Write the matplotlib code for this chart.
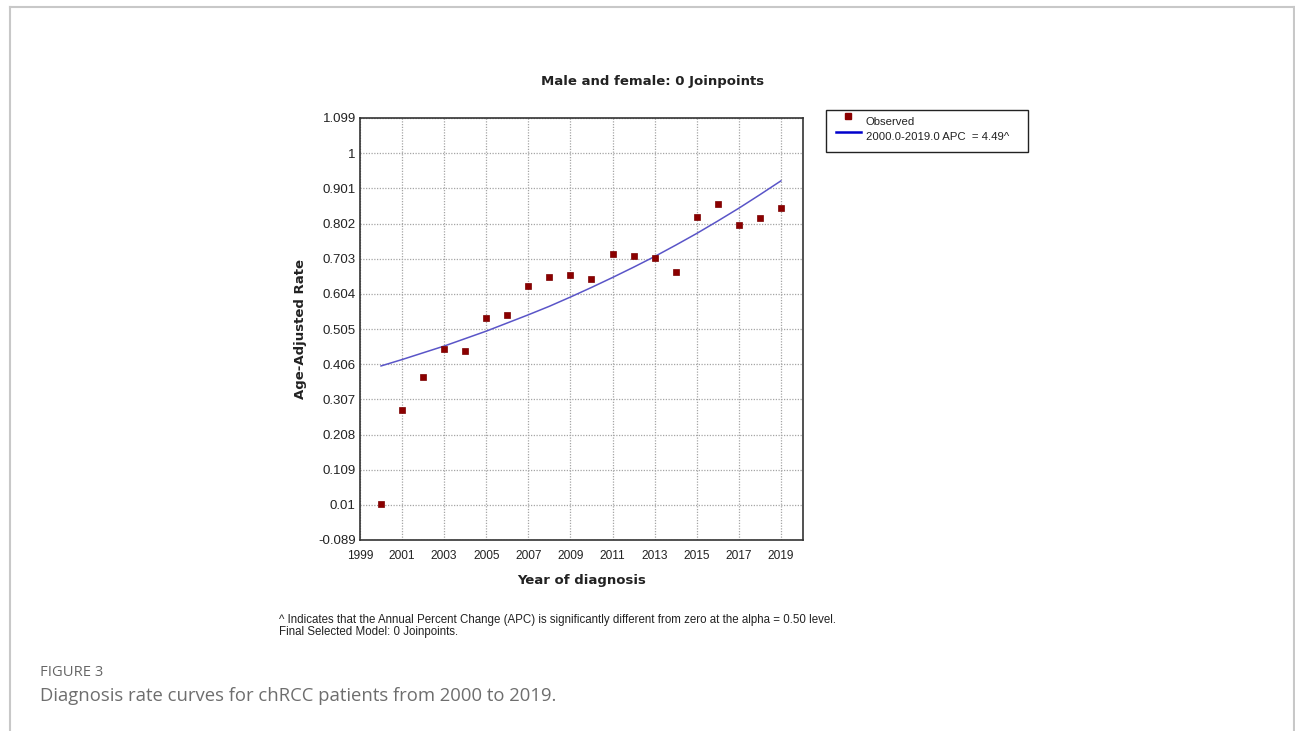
import matplotlib as mpl
mpl.use('Agg')
import matplotlib.pyplot as plt
from matplotlib.patches import Rectangle
from matplotlib.lines import Line2D

# observed age-adjusted rates
years = [2000, 2001, 2002, 2003, 2004, 2005, 2006, 2007, 2008, 2009,
         2010, 2011, 2012, 2013, 2014, 2015, 2016, 2017, 2018, 2019]
observed = [0.012, 0.277, 0.370, 0.449, 0.444, 0.536, 0.545, 0.627, 0.651, 0.657,
            0.645, 0.717, 0.710, 0.706, 0.665, 0.820, 0.857, 0.799, 0.817, 0.846]
# fitted joinpoint curve (APC = 4.49)
fitted = [0.401, 0.419, 0.438, 0.457, 0.478, 0.499, 0.522, 0.545, 0.569, 0.595,
          0.622, 0.650, 0.679, 0.709, 0.741, 0.774, 0.809, 0.845, 0.883, 0.922]

xticks = [1999, 2001, 2003, 2005, 2007, 2009, 2011, 2013, 2015, 2017, 2019]
yticks = [-0.089, 0.01, 0.109, 0.208, 0.307, 0.406, 0.505, 0.604, 0.703,
          0.802, 0.901, 1, 1.099]
ylabels = ["-0.089", "0.01", "0.109", "0.208", "0.307", "0.406", "0.505",
           "0.604", "0.703", "0.802", "0.901", "1", "1.099"]

tickfont = ['Liberation Sans', 'DejaVu Sans']

W, H = 1295, 731
fig = plt.figure(figsize=(W / 100, H / 100), dpi=100)

def fx(px):
    return px / W

def fy(py):
    return 1 - py / H

# outer card border
fig.add_artist(Line2D([fx(10), fx(10)], [fy(731), fy(6.5)], color='#c8c8c8', lw=1.5))
fig.add_artist(Line2D([fx(10), fx(1294)], [fy(6.5), fy(6.5)], color='#c8c8c8', lw=1.5))
fig.add_artist(Line2D([fx(1294), fx(1294)], [fy(6.5), fy(731)], color='#c8c8c8', lw=1.5))

ax = fig.add_axes([fx(360), fy(540), fx(803 - 360), (540 - 118) / H])
ax.plot(years, fitted, color='#5a55c8', lw=1.1, zorder=3)
ax.plot(years, observed, 's', color='#8b0000', markersize=4.8, zorder=4,
        markeredgecolor='#7a0000', markeredgewidth=0.5)

ax.set_xlim(1999, 2020.05)
ax.set_ylim(-0.089, 1.099)
ax.set_xticks(xticks)
ax.set_yticks(yticks)
ax.set_yticklabels(ylabels)
ax.grid(True, linestyle=(0, (1, 1.2)), color='#a5a5a5', lw=0.9)
ax.set_axisbelow(True)
ax.tick_params(axis='y', length=0, pad=3, labelsize=9.5, colors='#222222')
ax.tick_params(axis='x', length=0, pad=7.5, labelsize=8.6, colors='#222222')
for lab in ax.get_xticklabels() + ax.get_yticklabels():
    lab.set_family(tickfont)
for s in ax.spines.values():
    s.set_color('#333333')
    s.set_linewidth(1.2)

fig.text(fx(653), fy(81), "Male and female: 0 Joinpoints", fontsize=9.5, fontweight='bold',
         family='DejaVu Sans', color='#222222', ha='center', va='center')
ax.set_xlabel("Year of diagnosis", fontsize=9.5, fontweight='bold',
              family='DejaVu Sans', color='#222222', labelpad=8)
ax.set_ylabel("Age-Adjusted Rate", fontsize=9.5, fontweight='bold',
              family='DejaVu Sans', color='#222222', labelpad=8)

# legend box
fig.add_artist(Rectangle((fx(826), fy(152)), fx(1028 - 826), (152 - 110) / H,
                         fill=False, edgecolor='#222222', lw=1))
fig.add_artist(Line2D([fx(848)], [fy(116)], marker='s', color='#8b0000',
                      markersize=4, linestyle='none'))
fig.add_artist(Line2D([fx(836), fx(861)], [fy(132), fy(132)], color='#0000cc', lw=1.8))
fig.text(fx(866), fy(122), "Observed", fontsize=8.2, family=tickfont,
         va='center', ha='left', color='#222222')
fig.text(fx(866), fy(136.5), "2000.0-2019.0 APC  = 4.49^", fontsize=8.2, family=tickfont,
         va='center', ha='left', color='#222222')

# footnote
fig.text(fx(279), fy(620), "^ Indicates that the Annual Percent Change (APC) is significantly "
         "different from zero at the alpha = 0.50 level.", fontsize=8.3, family=tickfont,
         va='center', ha='left', color='#222222')
fig.text(fx(279), fy(632), "Final Selected Model: 0 Joinpoints.", fontsize=8.3, family=tickfont,
         va='center', ha='left', color='#222222')

# figure caption
fig.text(fx(40), fy(673), "FIGURE 3", fontsize=10.6, family='Open Sans',
         va='center', ha='left', color='#666666')
fig.text(fx(40), fy(696), "Diagnosis rate curves for chRCC patients from 2000 to 2019.",
         fontsize=13.3, family='Open Sans', va='center', ha='left', color='#6e6e6e')

fig.savefig('out.png', dpi=100)
